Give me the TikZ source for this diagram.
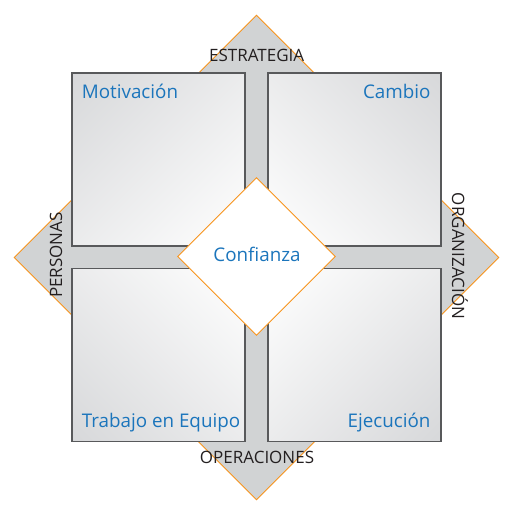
\documentclass[tikz,border=0pt]{standalone}
\usepackage{fontspec}
\usetikzlibrary{shapes.geometric,shadings}
\setmainfont{Open Sans}
\definecolor{labelblue}{HTML}{1B75BC}
\definecolor{rimorange}{HTML}{F7941D}
\definecolor{backgray}{HTML}{D1D3D4}
\definecolor{edgegray}{HTML}{58595B}
\definecolor{shadegray}{HTML}{D7D8DA}
\definecolor{inkblack}{HTML}{231F20}

\begin{document}
\begin{tikzpicture}[x=1pt, y=-1pt,
    frame/.style={diamond,draw=rimorange,fill=backgray,line width=0.9pt,inner sep=0pt,minimum width=485pt,minimum height=485pt},
    core/.style={diamond,draw=rimorange,fill=white,line width=0.9pt,inner sep=0pt,minimum width=158pt,minimum height=158pt},
    panel/.style={rectangle,draw=edgegray,line width=1.1pt,inner sep=0pt,minimum size=173pt},
    axis/.style={font=\fontsize{17}{20}\selectfont,text=inkblack,inner sep=0pt},
    topic/.style={font=\fontsize{18.8}{22}\selectfont,text=labelblue,inner sep=0pt}]
      \useasboundingbox (0,0) rectangle (517,514);
      \node[frame] (frame) at (256.5,257.5) {};

      % the four quadrants
      \node[panel, upper left=shadegray, lower right=white, upper right=shadegray!50!white, lower left=shadegray!50!white] (tl) at (158.5,159.5) {};
      \node[panel, upper right=shadegray, lower left=white, upper left=shadegray!50!white, lower right=shadegray!50!white] (tr) at (354.5,159.5) {};
      \node[panel, lower left=shadegray, upper right=white, upper left=shadegray!50!white, lower right=shadegray!50!white] (bl) at (158.5,355) {};
      \node[panel, lower right=shadegray, upper left=white, upper right=shadegray!50!white, lower left=shadegray!50!white] (br) at (354.5,355) {};

      \node[core] (core) at (256.5,256.5) {};

      \node[axis, anchor=base] (strategy) at (256.7,61.7) {ESTRATEGIA};
      \node[axis, anchor=base] (operations) at (257,463.3) {OPERACIONES};
      \node[axis, anchor=base, rotate=90] (people) at (62,255) {PERSONAS};
      \node[axis, anchor=base, rotate=-90] (organization) at (452,256) {ORGANIZACIÓN};

      \node[topic, anchor=base west] (motivation) at (81.7,98.3) {Motivación};
      \node[topic, anchor=base east] (change) at (430.7,98.3) {Cambio};
      \node[topic, anchor=base west] (teamwork) at (81.7,427.3) {Trabajo en Equipo};
      \node[topic, anchor=base east] (execution) at (430.7,427.5) {Ejecución};
      \node[topic, anchor=base] (trust) at (257,261.7) {Confianza};
    \end{tikzpicture}
\end{document}
